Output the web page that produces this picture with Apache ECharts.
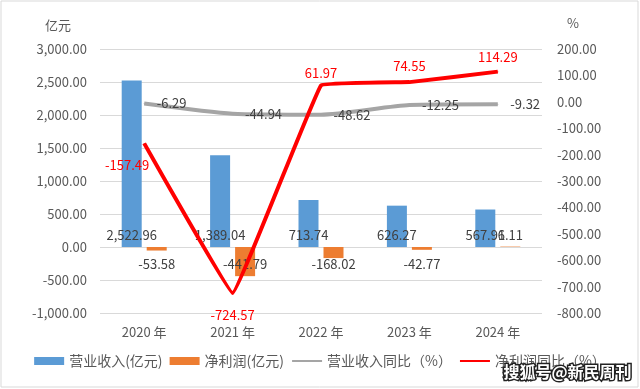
<!DOCTYPE html>
<html><head><meta charset="utf-8">
<script src="https://cdn.jsdelivr.net/npm/echarts@6/dist/echarts.min.js"></script>
<style>html,body{margin:0;padding:0;background:#fff}#c{width:640px;height:389px}</style>
</head><body><div id="c"></div>
<script>
const categories = ['2020 年', '2021 年', '2022 年', '2023 年', '2024 年'];
const revenue = [2522.96, 1389.04, 713.74, 626.27, 567.91];
const netProfit = [-53.58, -441.79, -168.02, -42.77, 6.11];
const revenueYoY = [-6.29, -44.94, -48.62, -12.25, -9.32];
const profitYoY = [-157.49, -724.57, 61.97, 74.55, 114.29];
const seriesNames = ['营业收入(亿元)', '净利润(亿元)', '营业收入同比（%）', '净利润同比（%）'];

const FONT = '"Noto Sans CJK SC", "Noto Sans", sans-serif';
const fmt = v => Number(v).toLocaleString('en-US', {minimumFractionDigits: 2, maximumFractionDigits: 2});

const chart = echarts.init(document.getElementById('c'));
const redLabelCfg = [
  {position: 'bottom', offset: [-17, 10]},
  {position: 'bottom', offset: [0, 10]},
  {position: 'top', offset: [0, 0]},
  {position: 'top', offset: [0, -4]},
  {position: 'top', offset: [0, -3]}
];
chart.setOption({
  animation: false,
  textStyle: {fontFamily: FONT},
  grid: {left: 100, right: 98, top: 49, bottom: 76},
  legend: {
    bottom: 16, left: 'center', itemGap: 7, itemWidth: 30, itemHeight: 8,
    textStyle: {fontSize: 14, color: '#595959', fontFamily: FONT},
    data: [
      {name: seriesNames[0], icon: 'rect'},
      {name: seriesNames[1], icon: 'rect'},
      {name: seriesNames[2], itemStyle: {opacity: 0}},
      {name: seriesNames[3], itemStyle: {opacity: 0}}
    ]
  },
  xAxis: {
    type: 'category', data: categories,
    axisLine: {show: false}, axisTick: {show: false},
    axisLabel: {color: '#595959', fontSize: 13, margin: 13}
  },
  yAxis: [
    {
      type: 'value', min: -1000, max: 3000, interval: 500,
      axisLine: {show: false}, axisTick: {show: false},
      splitLine: {lineStyle: {color: '#d9d9d9', width: 1}},
      axisLabel: {color: '#595959', fontSize: 13, margin: 13, formatter: fmt}
    },
    {
      type: 'value', min: -800, max: 200, interval: 100,
      axisLine: {show: false}, axisTick: {show: false}, splitLine: {show: false},
      axisLabel: {color: '#595959', fontSize: 13, margin: 15, formatter: fmt}
    }
  ],
  graphic: [
    {type: 'rect', shape: {x: 1, y: 1, width: 637, height: 386}, style: {fill: 'none', stroke: '#d9d9d9', lineWidth: 1}, z: -1},
    {type: 'text', left: 45, top: 19, style: {text: '亿元', fontSize: 13, fill: '#595959', fontFamily: FONT}},
    {type: 'text', left: 567, top: 17, style: {text: '%', fontSize: 13, fill: '#595959', fontFamily: FONT}},
    {type: 'text', left: 502, top: 362, z: 100, style: {text: '搜狐号@新民周刊', fontSize: 16, fontWeight: 'bold', fill: '#ffffff', stroke: '#222222', lineWidth: 3, fontFamily: FONT}}
  ],
  series: [
    {
      name: seriesNames[0], type: 'bar', data: revenue, barWidth: 20, barGap: '25%',
      itemStyle: {color: '#5b9bd5'},
      label: {show: true, position: 'insideBottom', distance: 5, color: '#404040', fontSize: 13, formatter: p => fmt(p.value)}
    },
    {
      name: seriesNames[1], type: 'bar', barWidth: 20,
      data: netProfit.map(v => ({value: v, label: v < 0 ? {position: 'insideTop', offset: [0, 6]} : {position: 'insideBottom'}})),
      itemStyle: {color: '#ed7d31'},
      label: {show: true, distance: 5, color: '#404040', fontSize: 13, formatter: p => fmt(p.value)}
    },
    {
      name: seriesNames[2], type: 'line', yAxisIndex: 1, data: revenueYoY, smooth: 0.2,
      symbol: 'circle', symbolSize: 1, showSymbol: true,
      lineStyle: {color: '#a5a5a5', width: 4}, itemStyle: {color: '#a5a5a5'},
      label: {show: true, position: 'right', distance: 12, color: '#404040', fontSize: 13, formatter: p => fmt(p.value)}
    },
    {
      name: seriesNames[3], type: 'line', yAxisIndex: 1, smooth: 0.05, z: 5,
      data: profitYoY.map((v, i) => ({value: v, label: redLabelCfg[i]})),
      symbol: 'circle', symbolSize: 1, showSymbol: true,
      lineStyle: {color: '#ff0000', width: 4}, itemStyle: {color: '#ff0000'},
      label: {show: true, color: '#ff0000', fontSize: 13, formatter: p => fmt(p.value)}
    }
  ]
});
</script></body></html>
